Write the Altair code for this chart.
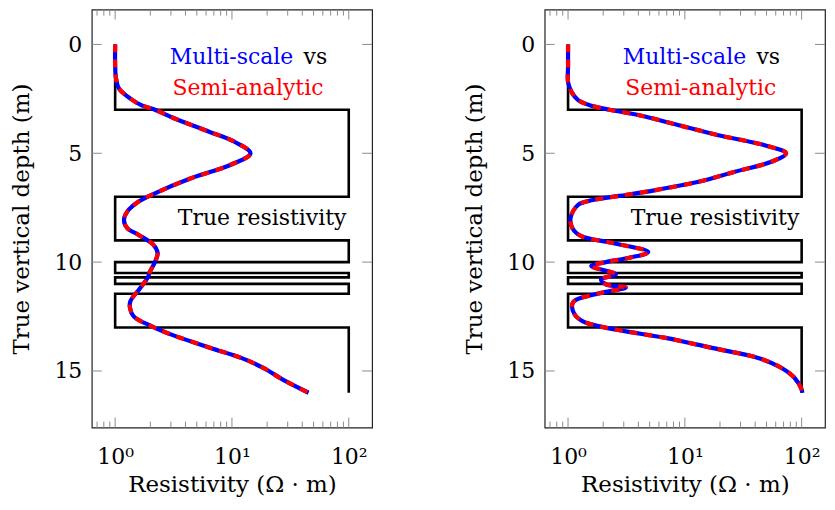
import altair as alt
import pandas as pd

# ---------------- data ----------------
# true resistivity step profile (depth m, resistivity ohm.m)
true_depth = [0, 3, 3, 7, 7, 9, 9, 10, 10, 10.5, 10.5, 10.7, 10.7, 11.0, 11.0, 11.45, 11.45, 13, 13, 16]
true_res = [1, 1, 100, 100, 1, 1, 100, 100, 1, 1, 100, 100, 1, 1, 100, 100, 1, 1, 100, 100]

# left panel: multi-scale result
left_depth = [0, 1.0, 1.6, 2.03, 2.49, 2.8, 3.0, 3.4, 4.0, 4.47, 5.0, 5.54, 6.15, 6.84, 7.22, 7.68,
              8.06, 8.44, 8.75, 9.2, 9.59, 10.0, 10.43, 10.73, 11.19, 11.8, 12.1, 12.49, 12.95, 13.33,
              13.94, 14.4, 14.85, 15.47, 16.0]
left_res = [1.0, 1.0, 1.02, 1.08, 1.35, 1.69, 2.19, 3.23, 6.3, 10.5, 14.4, 9.66, 4.46, 2.19, 1.59, 1.27,
            1.19, 1.27, 1.59, 2.12, 2.31, 2.19, 1.99, 1.89, 1.64, 1.35, 1.34, 1.44, 2.06, 3.03,
            6.56, 12.0, 18.4, 28.8, 45.3]
# left panel: semi-analytic result (coincides with multi-scale)
left_sa_depth = list(left_depth)
left_sa_res = list(left_res)

# right panel: multi-scale result
right_depth = [0, 1.0, 1.73, 2.18, 2.56, 2.79, 3.0, 3.25, 3.71, 4.17, 4.63, 5.0, 5.39, 5.85, 6.31, 6.69,
               6.96, 7.15, 7.37, 7.98, 8.44, 8.81, 9.12, 9.54, 9.80, 10.0, 10.18, 10.56, 10.79, 11.02,
               11.17, 11.40, 11.86, 12.41, 12.72, 12.95, 13.18, 13.48, 13.94, 14.4, 14.85, 15.31, 15.85, 16.0]
right_res = [1.0, 1.0, 1.0, 1.07, 1.22, 1.53, 2.26, 4.06, 8.87, 19.4, 48.2, 73.6, 55.0, 26.8, 13.1, 5.62,
             2.74, 1.63, 1.22, 1.05, 1.09, 1.3, 2.41, 4.86, 3.33, 2.11, 1.58, 2.57, 1.92, 2.11,
             3.12, 1.98, 1.10, 1.14, 1.34, 1.86, 3.13, 6.83, 17.0, 42.4, 66.8, 86.7, 100.0, 101.0]
right_sa_depth = list(right_depth)
right_sa_res = list(right_res)

# axes
x_major = [1, 10, 100]
x_minor = [0.7, 0.8, 0.9, 2, 3, 4, 5, 6, 7, 8, 9, 20, 30, 40, 50, 60, 70, 80, 90]
y_major = [0, 5, 10, 15]
x_labels = ["10⁰", "10¹", "10²"]

x_title = "Resistivity (Ω · m)"
y_title = "True vertical depth (m)"

# annotations (text, anchor resistivity, anchor depth)
note_ms = ("Multi-scale", 33.5, 0.89)
note_vs = ("vs", 41.0, 0.89)
note_sa = ("Semi-analytic", 13.7, 2.33)
note_true = ("True resistivity", 95.5, 8.28)

# ---------------- styling ----------------
FONT = "DejaVu Serif"
W, H = 281, 419
MAJ, MIN = 10, 6
TICK_COLOR = "#8c8c8c"

xscale = alt.Scale(type="log", domain=[10 ** -0.2, 10 ** 2.2], nice=False)
yscale = alt.Scale(domain=[-1.6, 17.6], reverse=True, nice=False, zero=False)

label_expr = " : ".join(
    [f"datum.value == {v} ? '{t}'" for v, t in zip(x_major, x_labels)]
) + " : ''"

xaxis = alt.Axis(values=x_major, labelExpr=label_expr, ticks=False, tickSize=0, domain=False,
                 grid=False, labelPadding=19, titlePadding=6, labelFlush=False)
yaxis = alt.Axis(values=y_major, ticks=False, tickSize=0, domain=False, grid=False,
                 labelPadding=10, titlePadding=20)


def X(field):
    return alt.X(field, type="quantitative", scale=xscale, axis=xaxis, title=x_title)


def Y(field):
    return alt.Y(field, type="quantitative", scale=yscale, axis=yaxis, title=y_title)


def panel(ms_d, ms_r, sa_d, sa_r):
    prof = pd.DataFrame({"r": true_res, "d": true_depth, "i": list(range(len(true_res)))})
    ms = pd.DataFrame({"r": ms_r, "d": ms_d, "i": list(range(len(ms_r)))})
    sa = pd.DataFrame({"r": sa_r, "d": sa_d, "i": list(range(len(sa_r)))})
    xmaj = pd.DataFrame({"r": x_major})
    xmin = pd.DataFrame({"r": x_minor})
    ymaj = pd.DataFrame({"d": y_major})

    layers = []
    # inward ticks
    for df, ln in ((xmaj, MAJ), (xmin, MIN)):
        layers.append(alt.Chart(df).mark_rule(color=TICK_COLOR, strokeWidth=1).encode(
            x=X("r"), y=alt.value(H), y2=alt.value(H - ln)))
        layers.append(alt.Chart(df).mark_rule(color=TICK_COLOR, strokeWidth=1).encode(
            x=X("r"), y=alt.value(0), y2=alt.value(ln)))
    layers.append(alt.Chart(ymaj).mark_rule(color=TICK_COLOR, strokeWidth=1).encode(
        y=Y("d"), x=alt.value(0), x2=alt.value(MAJ)))
    layers.append(alt.Chart(ymaj).mark_rule(color=TICK_COLOR, strokeWidth=1).encode(
        y=Y("d"), x=alt.value(W), x2=alt.value(W - MAJ)))

    layers.append(alt.Chart(prof).mark_line(color="black", strokeWidth=2.6, strokeJoin="miter").encode(
        x=X("r"), y=Y("d"), order="i:Q"))
    layers.append(alt.Chart(ms).mark_line(color="#0000ff", strokeWidth=4.2, interpolate="catmull-rom").encode(
        x=X("r"), y=Y("d"), order="i:Q"))
    layers.append(alt.Chart(sa).mark_line(color="#ff0000", strokeWidth=4.2, strokeDash=[8, 7],
                                          interpolate="catmull-rom").encode(
        x=X("r"), y=Y("d"), order="i:Q"))

    def note(n, color, align):
        df = pd.DataFrame({"t": [n[0]], "r": [n[1]], "d": [n[2]]})
        return alt.Chart(df).mark_text(align=align, baseline="alphabetic", font=FONT, fontSize=22,
                                       color=color).encode(x=X("r"), y=Y("d"), text="t:N")

    layers.append(note(note_ms, "#0000ff", "right"))
    layers.append(note(note_vs, "black", "left"))
    layers.append(note(note_sa, "#ff0000", "center"))
    layers.append(note(note_true, "black", "right"))

    return alt.layer(*layers).properties(width=W, height=H)


left = panel(left_depth, left_res, left_sa_depth, left_sa_res)
right = panel(right_depth, right_res, right_sa_depth, right_sa_res)

chart = alt.hconcat(left, right, spacing=89).properties(
    padding={"left": 2, "top": -1, "right": 0, "bottom": 0}
).configure_view(stroke="#222222", strokeWidth=1.2).configure_axis(
    labelFont=FONT, labelFontSize=22, labelColor="black",
    titleFont=FONT, titleFontSize=23, titleFontWeight="normal", titleColor="black"
)

chart.save("out.html", embed_options={"renderer": "svg", "actions": False})
